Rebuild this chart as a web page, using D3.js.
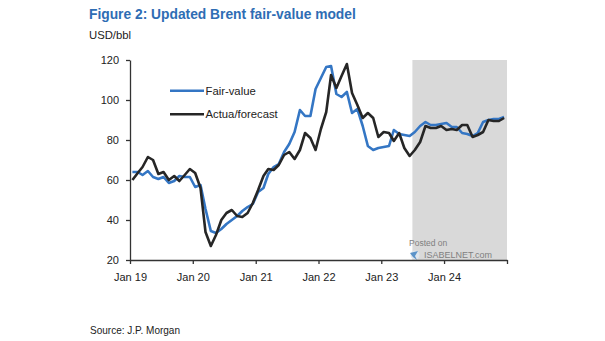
<!DOCTYPE html>
<html>
<head>
<meta charset="utf-8">
<script src="https://cdn.jsdelivr.net/npm/d3@7"></script>
<style>
  html, body { margin: 0; padding: 0; background: #fff; }
  svg { display: block; font-family: "Liberation Sans", Arial, sans-serif; }
</style>
</head>
<body>
<svg id="chart" width="605" height="341"></svg>
<script>
// Monthly observations, Jan 2019 – Dec 2024 (USD/bbl)
const startYear = 2019;
const monthCount = 72;

const fairValue = [
  64, 64, 62.5, 64.5, 61.5, 60.5, 61.5, 58.5, 59.5, 62, 61.5, 61.5,
  56.5, 57.5, 45.5, 34.5, 33.5, 35.5, 38, 40, 42, 44.5, 46.5, 48,
  54, 56, 63, 66.5, 68, 74, 78, 84, 95, 92, 92, 105.5,
  111, 116.5, 117, 103, 101.5, 104, 93.5, 95.5, 87, 77, 75, 76,
  76.5, 77, 85, 83, 82.5, 82, 84, 87, 89, 87.5, 87.5, 88,
  88.5, 86.5, 86.5, 83.5, 83, 82, 83.5, 89, 90, 90.5, 90.5, 91.5
];

const actualForecast = [
  60, 63.5, 66.5, 71.5, 70, 63, 64, 60, 62, 59.5, 62.5, 65.5,
  63.5, 56, 34, 27, 32.5, 40, 43.5, 45, 42, 41.5, 43.5, 48.5,
  55, 62, 65.5, 65, 67.5, 72.5, 74, 70.5, 75, 83.5, 81, 75,
  85.5, 94, 112.5, 106, 112, 118, 103.5, 97.5, 91, 93.5, 91, 81.5,
  84, 83.5, 79.5, 83.5, 76, 72, 75, 79, 87, 86, 86, 87,
  85, 85.5, 85, 87.5, 87.5, 81.5, 82.5, 84, 90, 89.5, 89.5, 91
];

const yTicks = [20, 40, 60, 80, 100, 120];
const xTickYears = [2019, 2020, 2021, 2022, 2023, 2024, 2025];
const xTickLabels = ["Jan 19", "Jan 20", "Jan 21", "Jan 22", "Jan 23", "Jan 24", ""];
const forecastStart = new Date(2023, 6, 1);   // shaded forecast window begins Jul 2023
const seriesNames = ["Fair-value", "Actua/forecast"];

const BLUE = "#3476c4";
const BLACK = "#262626";

const svg = d3.select("#chart");

const x = d3.scaleTime()
  .domain([new Date(2019, 0, 1), new Date(2025, 0, 1)])
  .range([130, 507]);
const y = d3.scaleLinear().domain([20, 120]).range([260, 60]);

const dates = d3.range(monthCount).map(i => new Date(startYear, i, 15));

// Title block
svg.append("text")
  .attr("x", 89).attr("y", 18.5)
  .attr("fill", "#2e6db4")
  .attr("font-weight", "bold")
  .attr("font-size", "13.8px")
  .text("Figure 2: Updated Brent fair-value model");

svg.append("text")
  .attr("x", 89).attr("y", 39)
  .attr("fill", "#222")
  .attr("font-size", "11.3px")
  .text("USD/bbl");

// Forecast shading
svg.append("rect")
  .attr("x", x(forecastStart))
  .attr("y", y(120))
  .attr("width", x(new Date(2025, 0, 1)) - x(forecastStart))
  .attr("height", y(20) - y(120))
  .attr("fill", "#d9d9d9");

// Watermark
const wm = svg.append("g").attr("fill", "#7f7f7f");
wm.append("text").attr("x", 409).attr("y", 246).attr("font-size", "8.5px").text("Posted on");
wm.append("text").attr("x", 424).attr("y", 258).attr("font-size", "9px").text("ISABELNET.com");
wm.append("circle").attr("cx", 415).attr("cy", 255).attr("r", 4.5).attr("fill", "#dfe6ee");
wm.append("path").attr("d", "M410,253 L418,251 L415,256 L417,260 L413,257 Z").attr("fill", "#5b93c9");

// Axes
const yAxis = d3.axisLeft(y).tickValues(yTicks).tickSize(4).tickSizeOuter(0).tickPadding(7);
const xAxis = d3.axisBottom(x)
  .tickValues(xTickYears.map(yr => new Date(yr, 0, 1)))
  .tickFormat((d, i) => xTickLabels[i])
  .tickSize(4).tickSizeOuter(0).tickPadding(9);

const gy = svg.append("g").attr("transform", "translate(130,0)").call(yAxis);
const gx = svg.append("g").attr("transform", "translate(0,260)").call(xAxis);

[gx, gy].forEach(g => {
  g.select(".domain").attr("stroke", "#333").attr("stroke-width", 1.3);
  g.selectAll(".tick line").attr("stroke", "#333").attr("stroke-width", 1.3);
  g.selectAll(".tick text")
    .attr("fill", "#222")
    .attr("font-size", "11px")
    .attr("font-family", "\"Liberation Sans\", Arial, sans-serif");
});

// Series lines
const line = d3.line()
  .x((d, i) => x(dates[i]))
  .y(d => y(d));

svg.append("path")
  .datum(fairValue)
  .attr("fill", "none")
  .attr("stroke", BLUE)
  .attr("stroke-width", 2.6)
  .attr("stroke-linejoin", "round")
  .attr("d", line);

svg.append("path")
  .datum(actualForecast)
  .attr("fill", "none")
  .attr("stroke", BLACK)
  .attr("stroke-width", 2.6)
  .attr("stroke-linejoin", "round")
  .attr("d", line);

// Legend
const legend = svg.append("g");
[BLUE, BLACK].forEach((c, i) => {
  const ly = 90.7 + i * 23.6;
  legend.append("line")
    .attr("x1", 170).attr("x2", 204)
    .attr("y1", ly).attr("y2", ly)
    .attr("stroke", c).attr("stroke-width", 2.6);
  legend.append("text")
    .attr("x", 205.5).attr("y", ly + 4)
    .attr("fill", "#222")
    .attr("font-size", "11.3px")
    .text(seriesNames[i]);
});

// Source note
svg.append("text")
  .attr("x", 90).attr("y", 334)
  .attr("fill", "#222")
  .attr("font-size", "10.2px")
  .attr("textLength", 90)
  .attr("lengthAdjust", "spacingAndGlyphs")
  .text("Source: J.P. Morgan");
</script>
</body>
</html>
